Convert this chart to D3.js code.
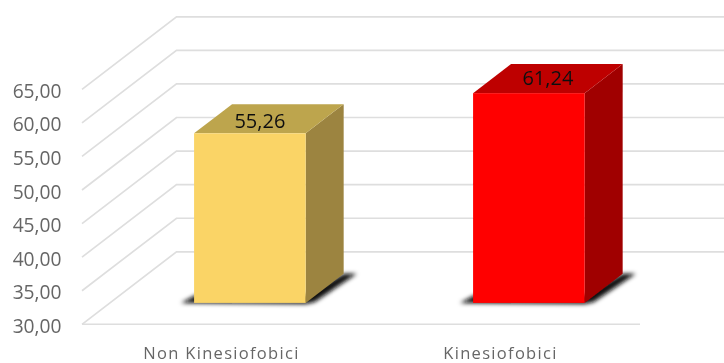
<!DOCTYPE html>
<html><head><meta charset="utf-8">
<script src="https://cdn.jsdelivr.net/npm/d3@7"></script>
<style>html,body{margin:0;padding:0;background:#fff}svg{display:block}</style>
</head><body><svg id="c" width="724" height="363"></svg>
<script>
const categories = ["Non Kinesiofobici", "Kinesiofobici"];
const values = [55.26, 61.24];
const tickValues = [30, 35, 40, 45, 50, 55, 60, 65];
const faceColors = ["#FAD466", "#FF0000"];
const topColors = ["#BDA54E", "#BE0000"];
const sideColors = ["#9C8440", "#A00000"];

const svg = d3.select("#c");
const defs = svg.append("defs");
defs.append("filter").attr("id","soft").attr("x","-20%").attr("y","-20%").attr("width","140%").attr("height","140%")
  .append("feGaussianBlur").attr("stdDeviation",0.5);
defs.append("filter").attr("id","shadow").attr("x","-30%").attr("y","-30%").attr("width","160%").attr("height","160%")
  .append("feGaussianBlur").attr("stdDeviation",2);

const y = d3.scaleLinear().domain([30,65]).range([324.3,89.3]);
const x = d3.scaleBand().domain(categories).range([82,640]).paddingInner(0.6).paddingOuter(0.3);
const cx = d3.scaleBand().domain(categories).range([82,640]);
// depth: 0 = front of the floor, 1 = back wall
const dx = d3.scaleLinear().domain([0,1]).range([0,94.5]);
const dy = d3.scaleLinear().domain([0,1]).range([0,-72.5]);
const d1 = 0.295, d2 = 0.697;
const right = 724;

const root = svg.append("g").attr("filter","url(#soft)");
const grid = root.append("g").attr("fill","none").attr("stroke","#DEDEDE");
tickValues.forEach(t=>{
  grid.append("path").attr("stroke-width",1.7)
    .attr("d",d3.line()([[82,y(t)],[82+dx(1),y(t)+dy(1)],[right,y(t)+dy(1)]]));
});
grid.append("line").attr("x1",82).attr("x2",640).attr("y1",y(30)).attr("y2",y(30)).attr("stroke-width",1.5);

const yAxis = d3.axisLeft(y).tickValues(tickValues).tickSize(0)
  .tickFormat(d=>d3.format(".2f")(d).replace(".",","));
const ga = root.append("g").attr("transform","translate(61.5,0)").call(yAxis);
ga.select(".domain").remove();
ga.selectAll("text").attr("x",0).attr("dy","0.42em").attr("fill","#666")
  .attr("font-family","Open Sans").attr("font-size",19.2);

const poly = pts => d3.line()(pts)+"Z";
categories.forEach((c,i)=>{
  const v = values[i];
  const a = x(c)+dx(d1)+0.5, b = a+x.bandwidth();
  const fy = y(30)+dy(d1), ty = y(v)+dy(d1);
  const ox = dx(d2-d1), oy = dy(d2-d1);
  const g = root.append("g");
  // cast shadow on the floor
  g.append("path").attr("filter","url(#shadow)").attr("fill","#111")
    .attr("d",poly([[a-13,fy],[a+2,fy-8],[b,fy-8],[b+ox,fy+oy],[b+ox+13,fy+oy],[b+9,fy-1],[b,fy+1]]));
  g.append("path").attr("fill",sideColors[i]).attr("d",poly([[b,fy],[b,ty],[b+ox,ty+oy],[b+ox,fy+oy]]));
  g.append("path").attr("fill",topColors[i]).attr("d",poly([[a,ty],[a+ox,ty+oy],[b+ox,ty+oy],[b,ty]]));
  g.append("rect").attr("x",a).attr("y",ty).attr("width",b-a).attr("height",fy-ty).attr("fill",faceColors[i]);
  // the first label sits left of and lower than the centre of its top face
  g.append("text").text(d3.format(".2f")(v).replace(".",","))
    .attr("x",(a+b+ox)/2-(i===0?9:0)).attr("y",ty+oy/2+(i===0?9:6.5)).attr("text-anchor","middle")
    .attr("font-family","Open Sans").attr("font-size",20).attr("fill","#111");
  root.append("text").text(c).attr("x",cx(c)+cx.bandwidth()/2).attr("y",358.5).attr("text-anchor","middle")
    .attr("font-family","Open Sans").attr("font-size",16.5).attr("letter-spacing",1.3).attr("fill","#666");
});
</script></body></html>
